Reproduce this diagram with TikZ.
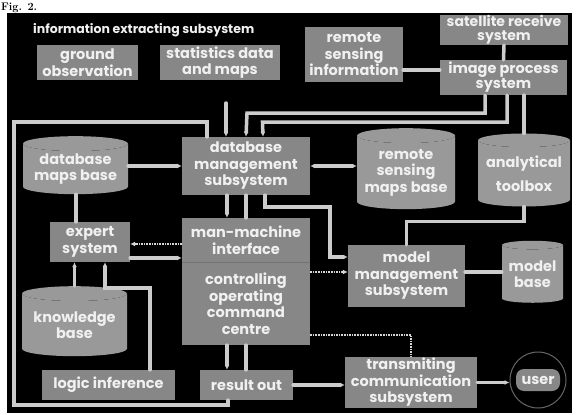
\documentclass[tikz,border=0pt]{standalone}
\usepackage{fontspec}
\usepackage{xcolor}
\usetikzlibrary{shapes.geometric, positioning, calc, arrows.meta}
\newfontfamily\boxfont{Poppins}
\definecolor{boxgray}{rgb}{0.53,0.53,0.53}
\definecolor{drumgray}{rgb}{0.60,0.60,0.60}
\definecolor{wiregray}{rgb}{0.80,0.80,0.80}
\definecolor{inkwhite}{rgb}{0.94,0.94,0.94}

\begin{document}
\begin{tikzpicture}[x=1pt, y=-1pt,
	every node/.style={font=\boxfont\bfseries\fontsize{14.5}{16.5}\selectfont, text=inkwhite, align=center, inner sep=0pt},
	box/.style 2 args={rectangle, fill=boxgray, minimum width=#1, minimum height=#2},
	drum/.style 2 args={cylinder, shape border rotate=90, aspect=0.18, cylinder uses custom fill,
		cylinder body fill=drumgray, cylinder end fill=drumgray, minimum width=#1, minimum height=#2},
	wire/.style={draw=wiregray, line width=3.5, line cap=round},
	faint/.style={draw=wiregray!80, line width=1.6, densely dotted},
	tip/.style={-{Latex[length=5pt,width=5pt]}}]
	\clip (0,0) rectangle (576,415);
	\useasboundingbox (0,0) rectangle (576,415);
	\node[anchor=base west, text=black, font=\rmfamily\bfseries\fontsize{11}{13}\selectfont] (figlabel) at (1,10.5) {Fig. 2.};
	\fill[black] (7,13) rectangle (572,413);
	
	% information extracting subsystem
	\node[anchor=west, font=\boxfont\bfseries\fontsize{12.5}{15}\selectfont] (title) at (33,30) {information extracting subsystem};
	\node[box={101}{35}] (ground) at (87.5,62.5) {ground\\observation};
	\node[box={120}{35}] (stats) at (220,62.5) {statistics data\\and maps};
	\node[box={98}{55}] (rsinfo) at (354,54.5) {remote\\sensing\\information};
	\node[box={128}{30}, font=\boxfont\bfseries\fontsize{14}{14}\selectfont] (satellite) at (504,30) {satellite receive\\system};
	\node[box={127}{35}, font=\boxfont\bfseries\fontsize{14.5}{15}\selectfont] (imgproc) at (503.5,77.5) {image process\\system};
	
	% centre
	\node[drum={105}{58}] (dbmb) at (75.5,169) {database\\maps base};
	\node[box={128}{58}] (dbms) at (246,166) {database\\management\\subsystem};
	\node[drum={98}{81}] (rsmb) at (406,172.5) {remote\\sensing\\maps base};
	\node[drum={92}{73}] (toolbox) at (524,173.5) {analytical\\[8pt]toolbox};
	\node[box={80}{40}] (expert) at (90,242) {expert\\system};
	\node[box={128}{44}] (mmi) at (246,240) {man-machine\\interface};
	\node[box={128}{83}] (ctrl) at (246,303.5) {controlling\\operating\\command\\centre};
	\draw[black!55, line width=1] (mmi.south west) -- (mmi.south east);
	\node[box={117}{62}] (mm) at (406.5,276) {model\\management\\subsystem};
	\node[drum={61}{62}] (mb) at (532.5,274) {model\\base};
	\node[drum={105}{70}] (kb) at (74.5,325) {knowledge\\base};
	\node[box={133}{30}] (logic) at (108.5,385) {logic inference};
	\node[box={93}{30}] (result) at (246.5,385) {result out};
	\node[box={132}{51}] (transmit) at (411,382.5) {transmiting\\communication\\subsystem};
	\node[circle, draw=black!60, fill=black, line width=1, minimum size=56] (user) at (538,380) {};
	\node[rectangle, rounded corners=8pt, fill=boxgray, minimum width=44, minimum height=22] (userlabel) at (user) {user};
	
	% connectors
	\coordinate (lefttop) at (14,122);
	\coordinate (leftbot) at (14,405);
	\coordinate (infeed) at (226,103);
	\draw[wire] (satellite.south) -- (imgproc.north);
	\draw[wire] ([yshift=7.5]imgproc.west -| rsinfo.east) -- ([yshift=7.5]imgproc.west);
	\draw[wire] ([xshift=-39]dbms.north) |- (lefttop) -- (leftbot) -| ([xshift=-18.5]result.south);
	\draw[wire, tip] (infeed) -- (infeed |- dbms.north);
	\draw[wire, tip] ([xshift=-18.5]imgproc.south) |- ++(-238,18) -- (dbms.north);
	\draw[wire, tip] ([xshift=3.5]imgproc.south) |- ++(-244.5,27) -- ([xshift=17]dbms.north);
	\draw[wire] (imgproc.south -| toolbox.north) -- (toolbox.north);
	\draw[wire, tip] (dbms.west -| dbmb.east) -- (dbms.west);
	\draw[wire, {Latex[length=5pt,width=5pt]}-{Latex[length=5pt,width=5pt]}] (dbms.east) -- (dbms.east -| rsmb.west);
	\draw[wire] (dbmb.south -| 76,0) -- (expert.north -| 76,0);
	\draw[wire, tip] ([xshift=-19]dbms.south) -- ([xshift=-19]mmi.north);
	\draw[wire] (dbms.south) -- (mmi.north);
	\draw[wire, tip] ([xshift=19]dbms.south) -- ++(0,12) -- ++(65,0) |- ([yshift=19]mm.west);
	\draw[faint, tip] ([yshift=-2]expert.east -| mmi.west) -- ([yshift=-2]expert.east);
	\draw[wire, tip] ([yshift=-16]expert.east) -- ([yshift=-16]expert.east -| mmi.west);
	\draw[wire, tip] (kb.north) -- (kb.north |- expert.south);
	\draw[wire, tip] ([xshift=41.5]logic.north) -- ++(0,-82) -| ([xshift=15]expert.south);
	\draw[wire, tip] ([xshift=-19]ctrl.south) -- ([xshift=-19]ctrl.south |- result.north);
	\draw[wire] (ctrl.south) -- (ctrl.south |- result.north);
	\draw[faint, tip] ([yshift=4]mm.west -| ctrl.east) -- ([yshift=4]mm.west);
	\draw[faint] ([yshift=-31.5]ctrl.east) -| (transmit.north);
	\draw[wire, tip] (result.east) -- (result.east -| transmit.west);
	\draw[wire, tip] (transmit.east) -- (transmit.east -| user.west);
	\draw[wire] ([yshift=4]mm.east) -- ([yshift=4]mm.east -| mb.west);
	\draw[wire] (toolbox.south) -- ++(0,15) -| (mm.north);
\end{tikzpicture}
\end{document}
